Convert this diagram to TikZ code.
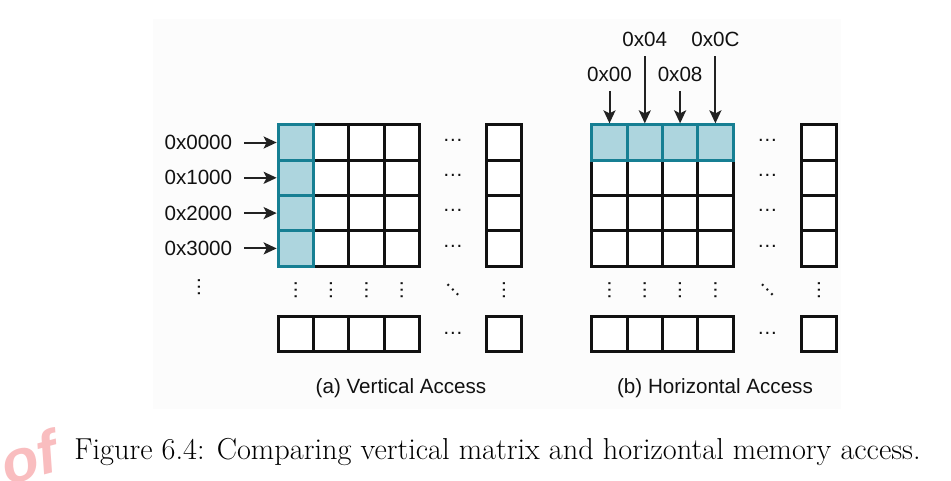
\documentclass[tikz,border=0pt]{standalone}
\usepackage{fontspec}
\setsansfont{Liberation Sans}
\usepackage{xcolor}
\definecolor{gridDark}{HTML}{111111}
\definecolor{accessTeal}{HTML}{167F93}
\definecolor{accessFill}{HTML}{ADD5DE}
\definecolor{arrowDark}{HTML}{222222}
\definecolor{panelBg}{HTML}{FCFCFC}
\definecolor{stampPink}{HTML}{F9BDBF}
\usepackage{tikz}
\usetikzlibrary{positioning,arrows.meta}
\tikzset{%
  memCell/.style={%
    rectangle,
    draw=gridDark,
    fill=white,
    line width=3pt,
    minimum size=35.3pt,
    inner sep=0pt
  },
  hitCell/.style={%
    memCell,
    draw=accessTeal,
    fill=accessFill
  },
  addrLabel/.style={%
    font=\sffamily\fontsize{20.6}{24}\selectfont,
    text=gridDark,
    inner sep=0pt
  },
  arrowLine/.style={%
    -{Stealth[length=13pt,width=12pt,inset=3pt]},
    line width=2pt,
    color=arrowDark
  },
  dotsLabel/.style={%
    font=\sffamily\fontsize{20.6}{24}\selectfont,
    text=gridDark,
    inner sep=0pt
  },
  figCaption/.style={%
    font=\fontsize{30.3}{36}\selectfont,
    inner sep=0pt
  },
  stampMark/.style={%
    font=\sffamily\bfseries\itshape\fontsize{60}{64}\selectfont,
    text=stampPink,
    inner sep=0pt
  }
}

\begin{document}
\begin{tikzpicture}[x=1pt,y=-1pt]
            \useasboundingbox (0,0) rectangle (951,480);
            \fill[panelBg] (153,19) rectangle (841,409);

            % (a) vertical access
            \foreach \r in {1,...,4}{
              \foreach \c in {2,3,4}
                \node[memCell] (v\r\c) at ({295.8+35.3*(\c-1)},{142.5+35.3*(\r-1)}) {};
              \node[memCell] (v\r5) at (504,{142.5+35.3*(\r-1)}) {};
              \node[dotsLabel] (vd\r) at (453,{140+35.3*(\r-1)}) {…};
            }
            \foreach \r/\addr in {1/0x0000,2/0x1000,3/0x2000,4/0x3000}{
              \node[hitCell] (v\r1) at (295.8,{142.5+35.3*(\r-1)}) {};
              \node[addrLabel, left=44.3pt of v\r1] (va\r) {\addr};
              \draw[arrowLine, shorten <=12pt] (va\r) -- (v\r1);
            }
            \foreach \c in {1,...,4}{
              \node[dotsLabel, rotate=90] (vv\c) at ({295.8+35.3*(\c-1)},290) {…};
              \node[memCell] (vb\c) at ({295.8+35.3*(\c-1)},334) {};
            }
            \node[dotsLabel, rotate=90] (vv5) at (504,290) {…};
            \node[dotsLabel, rotate=-45] (vvd) at (453,290) {…};
            \node[dotsLabel, rotate=90] (vva) at (199,287) {…};
            \node[memCell] (vb5) at (504,334) {};
            \node[dotsLabel] (vbd) at (453,333) {…};
            \node[addrLabel] (vcap) at (401,388) {(a) Vertical Access};

            % (b) horizontal access
            \foreach \r in {2,3,4}{
              \foreach \c in {1,...,4}
                \node[memCell] (h\r\c) at ({609.5+35.3*(\c-1)},{142.5+35.3*(\r-1)}) {};
            }
            \foreach \r in {1,...,4}{
              \node[memCell] (h\r5) at (819,{142.5+35.3*(\r-1)}) {};
              \node[dotsLabel] (hd\r) at (767.5,{140+35.3*(\r-1)}) {…};
            }
            \foreach \c/\addr/\gap in {1/0x00/41.6,2/0x04/76,3/0x08/41.6,4/0x0C/76}{
              \node[hitCell] (h1\c) at ({609.5+35.3*(\c-1)},142.5) {};
              \node[addrLabel, above=\gap pt of h1\c] (ha\c) {\addr};
              \draw[arrowLine, shorten <=9pt] (ha\c) -- (h1\c);
            }
            \foreach \c in {1,...,4}{
              \node[dotsLabel, rotate=90] (hv\c) at ({609.5+35.3*(\c-1)},290) {…};
              \node[memCell] (hb\c) at ({609.5+35.3*(\c-1)},334) {};
            }
            \node[dotsLabel, rotate=90] (hv5) at (819,290) {…};
            \node[dotsLabel, rotate=-45] (hvd) at (767.5,290) {…};
            \node[memCell] (hb5) at (819,334) {};
            \node[dotsLabel] (hbd) at (767.5,333) {…};
            \node[addrLabel] (hcap) at (715,388) {(b) Horizontal Access};

            \node[figCaption] (fig) at (497.5,452) {Figure 6.4: Comparing vertical matrix and horizontal memory access.};
            \node[stampMark, rotate=15] (stamp) at (29,457) {of};
        \end{tikzpicture}
\end{document}
